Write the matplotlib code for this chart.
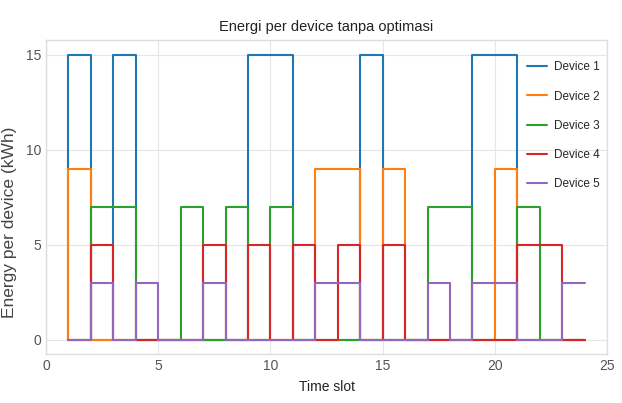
import numpy as np
import matplotlib
matplotlib.use("Agg")
import matplotlib.pyplot as plt

plt.style.use("seaborn-v0_8-whitegrid")
plt.rcParams['font.family'] = ['Liberation Sans Narrow', 'Liberation Sans', 'DejaVu Sans']

# time slots 1..24, step 'pre': value i is shown on segment [t-1, t]
slots = list(range(1, 25))
device1 = [0, 15, 0, 15, 0, 0, 0, 0, 0, 15, 15, 0, 0, 0, 15, 0, 0, 0, 0, 15, 15, 0, 0, 0]
device2 = [0, 9, 0, 0, 0, 0, 0, 0, 0, 0, 0, 0, 9, 9, 0, 9, 0, 0, 0, 0, 9, 0, 0, 0]
device3 = [0, 0, 7, 7, 0, 0, 7, 0, 7, 0, 7, 0, 0, 0, 0, 0, 0, 7, 7, 0, 0, 7, 0, 0]
device4 = [0, 0, 5, 0, 0, 0, 0, 5, 0, 5, 0, 5, 0, 5, 0, 5, 0, 0, 0, 0, 0, 5, 5, 0]
device5 = [0, 0, 3, 0, 3, 0, 0, 3, 0, 0, 0, 0, 3, 3, 0, 0, 0, 3, 0, 3, 3, 0, 0, 3]
labels = ["Device 1", "Device 2", "Device 3", "Device 4", "Device 5"]

fig = plt.figure(figsize=(6.22, 4.03), dpi=100)
ax = fig.add_axes([0.074, 0.122, 0.902, 0.778])

for y, lab in zip([device1, device2, device3, device4, device5], labels):
    ax.step(slots, y, where='pre', label=lab, linewidth=1.5)

ax.set_xlim(0, 25)
ax.set_xticks([0, 5, 10, 15, 20, 25])
ax.set_yticks([0, 5, 10, 15])
ax.set_title("Energi per device tanpa optimasi", fontsize=10.5, color='#222222', pad=7)
ax.set_xlabel("Time slot", fontsize=10, color='#222222', labelpad=5)
ax.set_ylabel("Energy per device (kWh)", fontsize=12.5, color='#444444')
ax.yaxis.set_label_coords(-0.052, 0.42)
ax.tick_params(labelsize=10, colors='#555555')
for s in ax.spines.values():
    s.set_color('#dddddd')
ax.grid(color='#e6e6e6')
ax.legend(loc='upper right', bbox_to_anchor=(1.0, 0.955), fontsize=8.5,
          labelspacing=1.45, handlelength=1.7, handletextpad=0.6, borderaxespad=0.2)

plt.savefig("out.png", dpi=100)
